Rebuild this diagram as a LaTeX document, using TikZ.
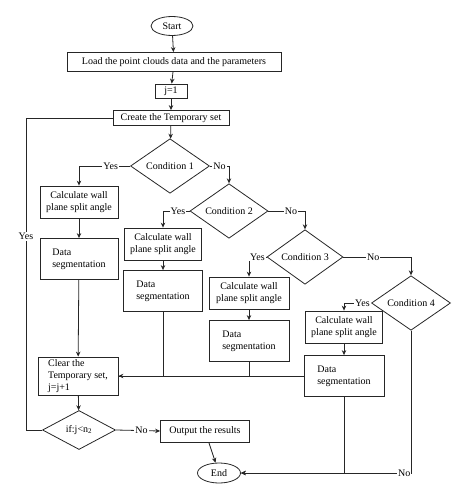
\documentclass[tikz,border=0pt]{standalone}
\usepackage{fontspec}
\setmainfont{Liberation Serif}
\usetikzlibrary{shapes.geometric,arrows.meta}

\tikzset{
  txt/.style={font=\fontsize{10}{12}\selectfont},
  bloc/.style={draw=black!85, thick, txt, inner sep=1pt, align=center},
  blocg/.style={bloc, align=left},
  cond/.style={draw=black!85, thick, diamond, txt, inner sep=0pt},
  term/.style={draw=black!85, thick, ellipse, txt, inner sep=0pt},
  lab/.style={txt, fill=white, inner sep=1pt},
  fl/.style={draw=black!85, thick, ->, >={Stealth[length=5pt,width=4.5pt]}},
  li/.style={draw=black!85, thick}
}

\begin{document}
\begin{tikzpicture}[x=1pt, y=-1pt]
 \useasboundingbox (0,0) rectangle (468,500);

	% Debut
 \node[term, minimum width=42pt, minimum height=19pt] (start) at (172,26) {Start};
 \node[bloc, minimum width=214pt, minimum height=19pt] (load) at (174,62) {Load the point clouds data and the parameters};
 \node[bloc, minimum width=32pt, minimum height=14pt] (j1) at (171,91) {j=1};
 \node[bloc, minimum width=116pt, minimum height=15pt] (create) at (171,118) {Create the Temporary set};

	% Conditions
 \node[cond, minimum width=79pt, minimum height=49pt] (c1) at (170,166) {Condition 1};
 \node[cond, minimum width=78pt, minimum height=49pt] (c2) at (229,211) {Condition 2};
 \node[cond, minimum width=76pt, minimum height=50pt] (c3) at (305,257) {Condition 3};
 \node[cond, minimum width=79pt, minimum height=50pt] (c4) at (411,303) {Condition 4};

	% Calculs et segmentations
 \node[bloc, minimum width=78pt, minimum height=32pt] (calc1) at (79,202) {Calculate wall\\plane split angle};
 \node[blocg, minimum width=78pt, minimum height=41pt] (data1) at (79,259) {Data\\segmentation};
 \node[bloc, minimum width=77pt, minimum height=32pt] (calc2) at (163,244) {Calculate wall\\plane split angle};
 \node[blocg, minimum width=79pt, minimum height=41pt] (data2) at (163,291) {Data\\segmentation};
 \node[bloc, minimum width=80pt, minimum height=32pt] (calc3) at (249,293) {Calculate wall\\plane split angle};
 \node[blocg, minimum width=80pt, minimum height=41pt] (data3) at (249,341) {Data\\segmentation};
 \node[bloc, minimum width=77pt, minimum height=32pt] (calc4) at (344,327) {Calculate wall\\plane split angle};
 \node[blocg, minimum width=80pt, minimum height=41pt] (data4) at (344,376) {Data\\segmentation};

	% Fin de boucle
 \node[blocg, minimum width=80pt, minimum height=38pt] (clear) at (78,376) {Clear the\\Temporary set,\\j=j+1};
 \node[cond, minimum width=73pt, minimum height=39pt] (if) at (79,430) {if:j<n\textsubscript{2}};
 \node[bloc, minimum width=89pt, minimum height=22pt] (out) at (205,431) {Output the results};
 \node[term, minimum width=43pt, minimum height=20pt] (end) at (219,473) {End};
 \coordinate (loop) at (26,118);

	% Liaisons
 \draw[fl] (start) -- (load);
 \draw[fl] (load) -- (j1);
 \draw[fl] (j1) -- (create);
 \draw[fl] (create) -- (c1);

 \draw[fl] (c1.west) -| node[lab, pos=0.19]{Yes} (calc1.north);
 \draw[fl] (c1.east) -| node[lab, pos=0.25]{No} (c2.north);
 \draw[fl] (c2.west) -| node[lab, pos=0.22]{Yes} (calc2.north);
 \draw[fl] (c2.east) -| node[lab, pos=0.31]{No} (c3.north);
 \draw[fl] (c3.west) -| node[lab, pos=0.26]{Yes} (calc3.north);
 \draw[fl] (c3.east) -| node[lab, pos=0.22]{No} (c4.north);
 \draw[fl] (c4.west) -| node[lab, pos=0.16]{Yes} (calc4.north);

 \draw[fl] (calc1) -- (data1);
 \draw[fl] (calc2) -- (data2);
 \draw[fl] (calc3) -- (data3);
 \draw[fl] (calc4) -- (data4);

 \draw[fl] (data1) -- (clear);
 \draw[li] (data2.south) |- (clear.east);
 \draw[li] (data3.south) |- (clear.east);
 \draw[fl] (data4.west) -- (clear.east);

 \draw[fl] (clear) -- (if);
 \draw[li] (if.west) -| node[lab, pos=0.81]{Yes} (loop) -- (create.west);
 \draw[fl] (if.east) -- node[lab, pos=0.58]{No} (out.west);
 \draw[fl] (out) -- (end);

 \draw[fl] (data4.south) |- (end.east);
 \draw[fl] (c4.south) |- node[lab, pos=0.52]{No} (end.east);

\end{tikzpicture}
\end{document}
